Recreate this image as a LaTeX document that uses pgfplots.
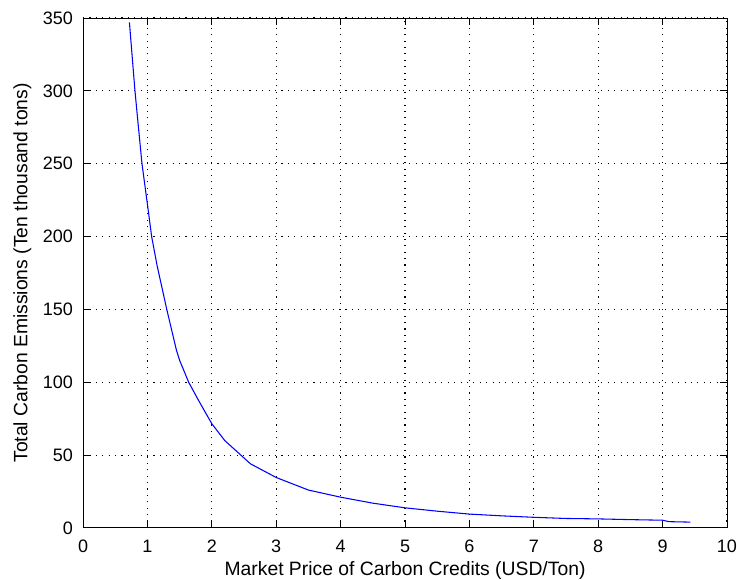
\documentclass[border=0pt]{standalone}
\usepackage{pgfplots}
\pgfplotsset{compat=1.18}
\usepackage{fontspec}
\setmainfont{Liberation Sans}
\begin{document}
\begin{tikzpicture}
\begin{axis}[
  scale only axis,
  width=483pt, height=382.5pt,
  xmin=0, xmax=10, ymin=0, ymax=350,
  xtick={0,1,...,10}, ytick={0,50,...,350},
  tick align=inside,
  xtick pos=both, ytick pos=both,
  major tick length=5pt,
  grid=major,
  major grid style={black, dash pattern=on 0.8pt off 4pt, line width=0.8pt},
  axis line style={black, line width=0.7pt},
  tick style={black, line width=0.7pt},
  /pgf/number format/assume math mode=true,
  ticklabel style={font=\fontsize{13.5}{15}\selectfont, inner sep=0pt},
  yticklabel style={xshift=-7.5pt},
  xticklabel style={yshift=-9pt},
  label style={font=\fontsize{14.5}{17}\selectfont, inner sep=0pt},
  xlabel={Market Price of Carbon Credits (USD/Ton)},
  ylabel={Total Carbon Emissions (Ten thousand tons)},
  xlabel style={at={(axis description cs:0.5,-0.094)}, anchor=base},
  ylabel style={at={(axis description cs:-0.0942,0.5)}, anchor=center},
  clip=false,
]
\addplot[blue, line width=0.8pt] coordinates {
(0.72,347) (0.76,325) (0.806,300) (0.86,275) (0.915,250) (1.0,222)
(1.065,200) (1.15,180) (1.30,150) (1.45,122) (1.5,115) (1.64,100)
(1.8,87) (2.0,71.5) (2.2,60) (2.45,50) (2.6,44) (3.0,34.6) (3.5,26)
(4.0,21.1) (4.5,17) (5.0,13.8) (5.5,11.5) (6.0,9.5) (6.5,8.3)
(7.0,7.3) (7.5,6.5) (8.0,6.2) (8.5,5.7) (9.0,5.3) (9.1,4.3) (9.43,4.0)
};
\path (rel axis cs:-0.129,-0.102) rectangle (rel axis cs:1.0155,1.0353);
\end{axis}
\end{tikzpicture}
\end{document}
